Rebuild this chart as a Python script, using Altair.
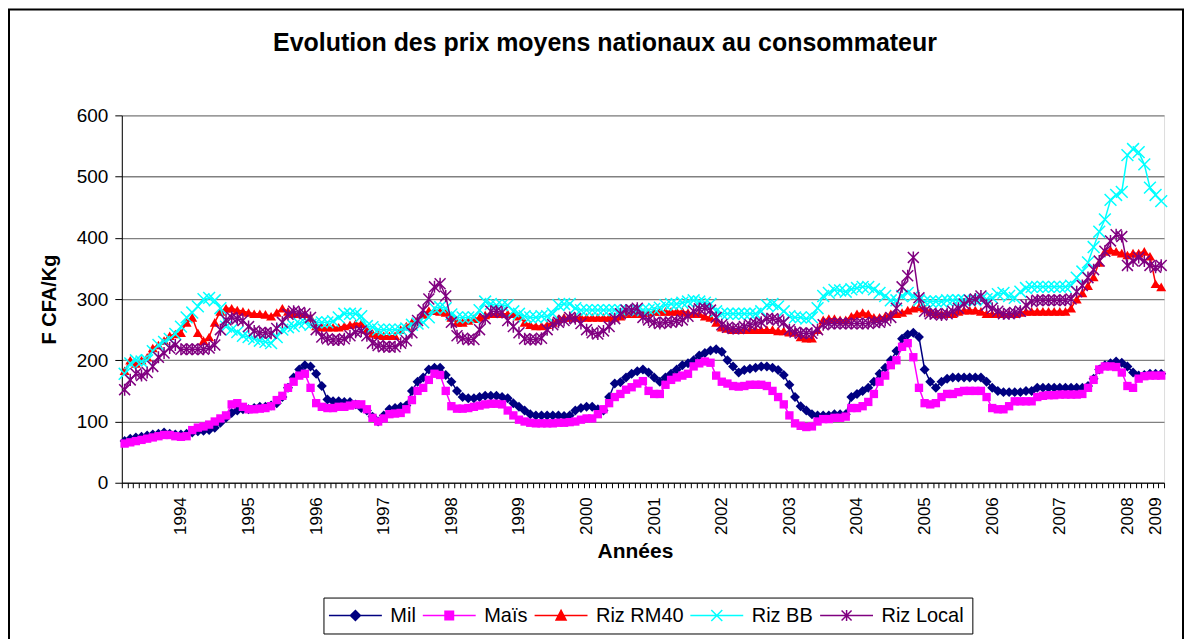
import altair as alt
import pandas as pd

FONT = "Liberation Sans"

SERIES = ["Mil", "Maïs", "Riz RM40", "Riz BB", "Riz Local"]
COLORS = ["#000080", "#FF00FF", "#FF0000", "#00FFFF", "#800080"]

MIL = [68, 72, 74, 75, 77, 79, 80, 82, 80, 79,
       79, 80, 82, 84, 85, 86, 90, 98, 106, 114,
       118, 120, 120, 122, 124, 124, 126, 130, 140, 155,
       172, 185, 192, 190, 178, 158, 136, 133, 133, 132,
       132, 128, 122, 118, 108, 100, 110, 120, 122, 124,
       126, 150, 165, 172, 185, 188, 188, 176, 165, 150,
       140, 138, 138, 140, 142, 142, 142, 140, 138, 130,
       124, 118, 112, 110, 110, 110, 110, 110, 109, 110,
       118, 122, 124, 124, 120, 118, 140, 162, 164, 172,
       178, 182, 185, 180, 172, 165, 172, 178, 185, 192,
       195, 200, 208, 212, 216, 218, 214, 200, 190, 180,
       184, 186, 188, 190, 190, 188, 184, 176, 160, 140,
       125, 118, 112, 110, 110, 110, 112, 112, 112, 140,
       145, 150, 155, 165, 178, 188, 200, 215, 235, 242,
       245, 238, 185, 165, 155, 165, 170, 172, 172, 172,
       172, 172, 172, 165, 155, 150, 148, 148, 148, 148,
       150, 150, 155, 155, 155, 155, 155, 155, 155, 155,
       155, 158, 170, 185, 192, 195, 198, 196, 190, 180,
       175, 176, 178, 178, 178]

MAIS = [64, 66, 68, 70, 72, 74, 76, 78, 78, 76,
        75, 76, 86, 90, 92, 95, 100, 105, 110, 128,
        130, 124, 120, 120, 121, 122, 125, 135, 142, 155,
        165, 175, 178, 155, 130, 124, 122, 122, 124, 124,
        126, 128, 128, 120, 106, 100, 105, 112, 113, 114,
        120, 135, 150, 155, 168, 178, 176, 150, 125, 121,
        121, 122, 124, 126, 128, 129, 129, 128, 118, 110,
        103, 100, 98, 97, 97, 97, 97, 98, 98, 99,
        100, 103, 105, 105, 112, 120, 130, 140, 145, 152,
        156, 162, 166, 150, 145, 145, 160, 168, 172, 175,
        178, 190, 195, 198, 196, 175, 165, 162, 158, 157,
        158, 160, 160, 160, 158, 150, 140, 128, 110, 97,
        93, 91, 92, 100, 104, 104, 106, 106, 108, 122,
        122, 125, 132, 145, 165, 175, 192, 200, 222, 228,
        205, 155, 130, 128, 130, 140, 145, 145, 148, 150,
        150, 150, 150, 140, 122, 120, 120, 125, 133, 133,
        133, 133, 140, 142, 143, 143, 144, 144, 144, 144,
        145, 155, 168, 185, 190, 190, 189, 180, 158, 155,
        170, 174, 175, 175, 175]

RM40 = [183, 200, 195, 200, 205, 220, 225, 232, 240, 243,
        245, 262, 270, 245, 232, 238, 262, 280, 285, 285,
        282, 280, 278, 276, 276, 275, 272, 278, 285, 280,
        276, 276, 276, 270, 256, 254, 254, 254, 254, 256,
        258, 260, 260, 250, 244, 242, 240, 240, 240, 250,
        256, 262, 266, 275, 281, 281, 280, 278, 270, 262,
        262, 265, 268, 270, 274, 276, 276, 276, 276, 276,
        272, 262, 258, 256, 256, 258, 262, 268, 270, 270,
        270, 270, 270, 270, 270, 270, 270, 270, 272, 276,
        276, 276, 278, 278, 280, 280, 280, 280, 280, 280,
        278, 276, 276, 272, 270, 262, 254, 252, 250, 250,
        250, 250, 250, 250, 250, 250, 248, 248, 246, 246,
        238, 236, 236, 250, 266, 268, 268, 266, 266, 272,
        276, 278, 276, 270, 270, 272, 276, 276, 278, 282,
        285, 287, 285, 280, 276, 276, 276, 276, 280, 282,
        282, 282, 280, 276, 276, 276, 276, 276, 276, 278,
        280, 280, 280, 280, 280, 280, 280, 280, 285, 300,
        310, 322, 336, 360, 378, 380, 378, 375, 372, 375,
        375, 378, 370, 325, 320]

BB = [178, 195, 200, 198, 200, 215, 225, 230, 235, 243,
      255, 270, 278, 288, 300, 302, 298, 285, 255, 250,
      246, 240, 238, 235, 232, 230, 228, 238, 250, 254,
      256, 260, 262, 258, 262, 262, 262, 264, 270, 276,
      276, 276, 272, 256, 254, 250, 250, 250, 250, 250,
      252, 258, 260, 262, 270, 285, 287, 285, 275, 270,
      270, 270, 270, 282, 296, 292, 290, 290, 290, 280,
      276, 272, 270, 270, 272, 272, 276, 290, 292, 292,
      285, 282, 282, 282, 282, 282, 282, 282, 282, 282,
      282, 282, 282, 282, 284, 286, 290, 292, 292, 294,
      296, 298, 296, 294, 292, 280, 276, 276, 276, 276,
      276, 276, 276, 280, 290, 292, 288, 280, 272, 270,
      270, 268, 270, 285, 305, 310, 315, 314, 312, 316,
      318, 320, 320, 316, 310, 305, 298, 298, 305, 310,
      305, 298, 296, 296, 296, 296, 298, 298, 298, 298,
      298, 298, 300, 300, 302, 308, 310, 305, 302, 312,
      318, 320, 320, 320, 320, 320, 320, 320, 322, 335,
      345, 360, 385, 410, 430, 462, 470, 475, 535, 545,
      540, 520, 482, 470, 460]

LOCAL = [152, 168, 178, 175, 180, 190, 205, 212, 220, 225,
         218, 218, 218, 218, 218, 220, 225, 250, 266, 270,
         268, 265, 255, 248, 245, 245, 244, 252, 262, 275,
         280, 278, 276, 270, 250, 238, 235, 233, 233, 235,
         240, 246, 248, 240, 228, 224, 222, 222, 222, 228,
         232, 245, 265, 282, 300, 320, 325, 305, 262, 240,
         236, 234, 234, 250, 268, 280, 280, 278, 265, 255,
         245, 235, 234, 234, 236, 250, 258, 262, 265, 270,
         268, 260, 250, 245, 243, 248, 255, 268, 276, 282,
         282, 285, 270, 266, 262, 260, 262, 262, 264, 266,
         272, 280, 284, 285, 282, 270, 258, 254, 252, 252,
         255, 258, 260, 262, 268, 268, 266, 262, 250, 246,
         244, 244, 244, 250, 258, 260, 260, 260, 260, 260,
         260, 260, 260, 262, 262, 265, 270, 285, 320, 338,
         368, 302, 280, 276, 276, 274, 276, 280, 285, 292,
         298, 300, 305, 290, 285, 280, 276, 276, 278, 280,
         290, 296, 298, 298, 298, 298, 298, 298, 300, 312,
         322, 335, 348, 362, 378, 395, 405, 402, 355, 362,
         368, 362, 355, 352, 355]

YEAR_LABELS = ["1994", "1995", "1996", "1997", "1998", "1999", "2000", "2001",
               "2002", "2003", "2004", "2005", "2006", "2007", "2008", "2009"]
YEAR_POS = [10, 22, 34, 46, 58, 70, 82, 94, 106, 118, 130, 142, 154, 166, 178, 183]

N = len(MIL)

rows = []
for name, vals in zip(SERIES, [MIL, MAIS, RM40, BB, LOCAL]):
    for i, v in enumerate(vals):
        rows.append({"serie": name, "idx": i + 0.5, "prix": v})
df = pd.DataFrame(rows)

PLOT_SHAPES = ["diamond", "square", "triangle-up",
               "M-1,-1L1,1M-1,1L1,-1",
               "M-1,-1L1,1M-1,1L1,-1M0,-1.1L0,1.1"]
PLOT_SIZES = [100, 70, 100, 140, 120]
PLOT_FILLED = [True, True, True, False, False]
LEGEND_SHAPES = ["M-5.3,0L5.3,0M0,-1L1,0L0,1L-1,0Z",
                 "M-5.3,0L5.3,0M-0.85,-0.85L0.85,-0.85L0.85,0.85L-0.85,0.85Z",
                 "M-5.3,0L5.3,0M0,-1.05L1,0.9L-1,0.9Z",
                 "M-5.3,0L5.3,0M-1.1,-1.1L1.1,1.1M-1.1,1.1L1.1,-1.1",
                 "M-5.3,0L5.3,0M-1,-1L1,1M-1,1L1,-1M0,-1.1L0,1.1"]

label_expr = "".join(f"datum.value == {p} ? '{l}' : " for p, l in zip(YEAR_POS, YEAR_LABELS)) + "''"

x_enc = alt.X(
    "idx:Q",
    scale=alt.Scale(domain=[0, N], nice=False, zero=False),
    axis=alt.Axis(
        values=list(range(N + 1)), labelExpr=label_expr, labelAngle=270,
        labelFontSize=17, labelFont=FONT, labelColor="black", labelOffset=2.8,
        labelPadding=9, labelOverlap=False, labelFlush=False, labelBound=False,
        tickSize=5, tickColor="black", tickWidth=1, domainColor="black", domainWidth=1,
        grid=False, title="Années", titleFontSize=21, titleFont=FONT,
        titleFontWeight="bold", titleColor="black", titleX=514, titleY=58,
        titleAlign="center", titleBaseline="top",
    ),
)
y_enc = alt.Y(
    "prix:Q",
    scale=alt.Scale(domain=[0, 600], nice=False),
    axis=alt.Axis(
        values=[0, 100, 200, 300, 400, 500, 600], labelFontSize=19, labelFont=FONT,
        labelColor="black", labelPadding=7, tickSize=7, tickColor="black",
        domainColor="black", domainWidth=1, gridColor="#808080", gridWidth=1.3,
        title="F CFA/Kg", titleFontSize=20, titleFont=FONT, titleFontWeight="bold",
        titleColor="black", titlePadding=17,
    ),
)

base = alt.Chart(df)

frame = alt.Chart(alt.Data(values=[{"k": 1}])).mark_rect(
    fill="transparent", stroke="black", strokeWidth=2
).encode(x=alt.value(-113), x2=alt.value(1063), y=alt.value(-106), y2=alt.value(546))

layers = [frame]
for name, col, shp, sz, filled in zip(SERIES, COLORS, PLOT_SHAPES, PLOT_SIZES, PLOT_FILLED):
    sub = base.transform_filter(alt.datum.serie == name)
    layers.append(sub.mark_line(color=col, strokeWidth=1.5).encode(x=x_enc, y=y_enc))
    if filled:
        pt = sub.mark_point(shape=shp, size=sz, filled=True, color=col, opacity=1)
    else:
        pt = sub.mark_point(shape=shp, size=sz, filled=False, color=col, opacity=1, strokeWidth=1.5)
    layers.append(pt.encode(x=x_enc, y=y_enc))

leg = alt.Legend(
    orient="none", legendX=202, legendY=483, direction="horizontal", title=None,
    strokeColor="black", padding=8, labelFontSize=20, labelFont=FONT,
    labelColor="black", symbolOpacity=1, symbolSize=100, symbolStrokeWidth=1.5,
    symbolOffset=14, labelOffset=25, columnPadding=3, fillColor="white",
)
legend_layer = base.transform_filter(alt.datum.idx < 1).mark_point(opacity=0, size=100).encode(
    x=x_enc, y=y_enc,
    shape=alt.Shape("serie:N", scale=alt.Scale(domain=SERIES, range=LEGEND_SHAPES), legend=leg),
    fill=alt.Fill("serie:N", scale=alt.Scale(domain=SERIES, range=COLORS), legend=leg),
    stroke=alt.Stroke("serie:N", scale=alt.Scale(domain=SERIES, range=COLORS), legend=leg),
)
layers.append(legend_layer)

chart = alt.layer(*layers).properties(
    width=1044, height=368,
    padding=0,
    title=alt.TitleParams(
        "Evolution des prix moyens nationaux au consommateur", fontSize=25,
        fontWeight="bold", font=FONT, color="black", anchor="middle", dx=-38, dy=52,
    ),
).configure_view(stroke="#808080", strokeWidth=1.5).configure(background="white")

chart.save("out.html", embed_options={"renderer": "svg", "actions": False})
